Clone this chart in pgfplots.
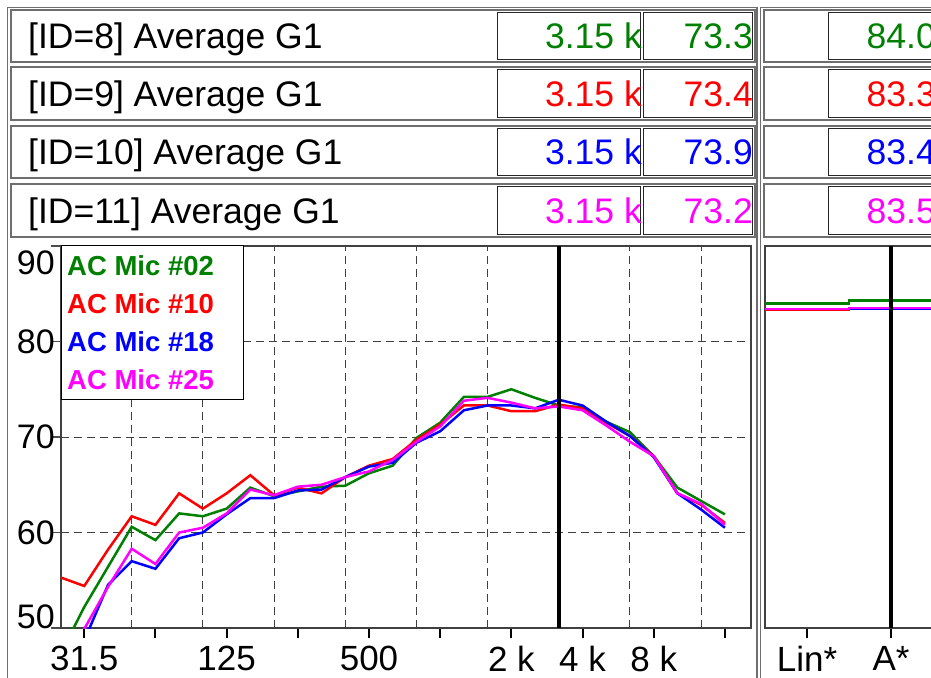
\documentclass[border=0pt]{standalone}
\usepackage{pgfplots}
\usepackage{pgfplotstable}
\pgfplotsset{compat=1.18}
\usepackage{fontspec}
\setmainfont{Liberation Sans}
\definecolor{colG}{RGB}{0,128,0}
\definecolor{colR}{RGB}{255,0,0}
\definecolor{colB}{RGB}{0,0,255}
\definecolor{colM}{RGB}{255,0,255}
\definecolor{frm}{RGB}{110,110,110}

\pgfplotstableread{
i g r b m
-1 47.3 55.3 45.5 46.0
0 52.2 54.4 48.7 49.9
1 56.4 58.2 54.5 54.3
2 60.6 61.7 57.0 58.3
3 59.2 60.8 56.2 56.7
4 62.0 64.1 59.4 60.0
5 61.7 62.5 60.0 60.5
6 62.5 64.1 61.9 62.0
7 64.7 66.0 63.6 64.5
8 63.8 63.9 63.6 63.9
9 64.3 64.7 64.4 64.8
10 64.8 64.1 64.5 65.0
11 64.9 65.8 65.8 65.8
12 66.2 67.0 66.9 66.4
13 67.0 67.7 67.3 67.6
14 69.9 69.7 69.4 69.5
15 71.5 71.3 70.6 71.1
16 74.2 73.3 72.8 73.8
17 74.2 73.3 73.3 74.1
18 75.0 72.7 73.3 73.6
19 74.1 72.7 73.0 73.0
20 73.3 73.4 73.9 73.2
21 73.1 73.0 73.3 72.8
22 71.6 71.5 71.6 71.2
23 70.5 70.1 70.1 69.5
24 68.0 68.0 67.9 68.0
25 64.7 64.1 64.1 64.1
26 63.3 62.9 62.4 63.0
27 61.9 61.0 60.5 60.8
}\spectrum

\begin{document}
\begin{tikzpicture}
% section frames
\draw[frm, line width=1.5pt] (7.5pt,-7.5pt) rectangle (757pt,-700pt);
\draw[frm, line width=1.5pt] (760.5pt,-7.5pt) rectangle (1000pt,-700pt);
\foreach \t/\b/\id/\v/\w/\c in {10/62/8/73.3/84.0/colG, 67/120/9/73.4/83.3/colR, 126/178/10/73.9/83.4/colB, 184/237/11/73.2/83.5/colM} {
  \draw[frm, line width=2pt] (11pt,{-\t*1pt}) rectangle (755pt,{-\b*1pt});
  \draw[black!85, line width=0.8pt] (497pt,{-(\t+2.5)*1pt}) rectangle (640.5pt,{-(\b-2.5)*1pt});
  \draw[black!85, line width=0.8pt] (643pt,{-(\t+2.5)*1pt}) rectangle (752pt,{-(\b-2.5)*1pt});
  \draw[frm, line width=2pt] (763.5pt,{-\t*1pt}) rectangle (1000pt,{-\b*1pt});
  \draw[black!85, line width=0.8pt] (828pt,{-(\t+2.5)*1pt}) rectangle (990pt,{-(\b-2.5)*1pt});
  \node[anchor=base west, inner sep=0pt, font=\fontsize{35.5pt}{40pt}\selectfont] at (28pt,{-((\t+\b)/2+12.5)*1pt}) {[ID=\id] Average G1};
  \node[anchor=base east, inner sep=0pt, text=\c, font=\fontsize{35.5pt}{40pt}\selectfont] at (642pt,{-((\t+\b)/2+12.5)*1pt}) {3.15 k};
  \node[anchor=base east, inner sep=0pt, text=\c, font=\fontsize{35.5pt}{40pt}\selectfont] at (753pt,{-((\t+\b)/2+12.5)*1pt}) {\v};
  \node[anchor=base west, inner sep=0pt, text=\c, font=\fontsize{35.5pt}{40pt}\selectfont] at (866.5pt,{-((\t+\b)/2+12.5)*1pt}) {\w};
}

\begin{axis}[
  at={(61pt,-628pt)}, anchor=south west,
  scale only axis, width=690pt, height=382pt,
  xmin=-0.98, xmax=28.1, ymin=50, ymax=90,
  axis line style={draw=black!75, line width=1.5pt},
  tick align=outside, tick pos=left,
  major tick length=10pt,
  xtick={0,3,...,27},
  xticklabels={31.5,,125,,500,,2 k,4 k,8 k,},
  xtick style={black, line width=2pt},
  ytick={50,60,70,80,90},
  yticklabels={{\raisebox{11pt}[\height][\depth]{50}},60,70,80,{\raisebox{-17pt}[\height][\depth]{90}}},
  ytick style={black!70, line width=1.5pt},
  ymajorgrids,
  extra x ticks={2,5,8,11,14,17,20,23,26},
  extra x tick labels={},
  extra x tick style={grid=major, tick style={draw=none}},
  major grid style={black!75, line width=1pt, dash pattern=on 8pt off 5pt},
  xticklabel style={font=\fontsize{35pt}{40pt}\selectfont, inner sep=0pt, anchor=north, yshift=-8pt},
  yticklabel style={font=\fontsize{34pt}{40pt}\selectfont, inner sep=0pt, anchor=east, xshift=4pt},
]
\addplot[colG, line width=2.5pt] table[x=i,y=g]{\spectrum};
\addplot[colR, line width=2.5pt] table[x=i,y=r]{\spectrum};
\addplot[colB, line width=2.5pt] table[x=i,y=b]{\spectrum};
\addplot[colM, line width=2.5pt] table[x=i,y=m]{\spectrum};
\addplot[black, line width=3.5pt] coordinates {(20,50) (20,90)};
\end{axis}

\begin{axis}[
  at={(765pt,-628pt)}, anchor=south west,
  scale only axis, width=176.4pt, height=382pt,
  xmin=-0.5, xmax=1.6, ymin=50, ymax=90,
  axis line style={draw=black!75, line width=1.5pt},
  tick align=outside, tick pos=left,
  major tick length=10pt,
  xtick={0,1}, xticklabels={Lin*,A*},
  xtick style={black, line width=2pt},
  ytick=\empty,
  xticklabel style={font=\fontsize{35pt}{40pt}\selectfont, inner sep=0pt, anchor=north, yshift=-8pt},
]
\addplot[colG, line width=2.5pt, const plot] coordinates {(-0.5,84.0) (0.5,84.3) (1.6,84.3)};
\addplot[colR, line width=2.5pt, const plot] coordinates {(-0.5,83.3) (0.5,83.4) (1.6,83.4)};
\addplot[colB, line width=2.5pt, const plot] coordinates {(-0.5,83.4) (0.5,83.4) (1.6,83.4)};
\addplot[colM, line width=2.5pt, const plot] coordinates {(-0.5,83.4) (0.5,83.5) (1.6,83.5)};
\addplot[black, line width=3.5pt] coordinates {(1,50) (1,90)};
\end{axis}

% legend
\node[draw=black, fill=white, line width=1pt, anchor=north west, minimum width=182pt, minimum height=154pt, inner sep=0pt] at (61pt,-245pt) {};
\foreach \y/\c/\n in {266/colG/02, 304/colR/10, 342/colB/18, 380/colM/25} {
  \node[anchor=west, inner sep=0pt, text=\c, font=\fontsize{27.5pt}{32pt}\selectfont\bfseries] at (67pt,{-\y*1pt}) {AC Mic \#\n};
}

\pgfresetboundingbox
\useasboundingbox (0,0) rectangle (931pt,-677pt);
\end{tikzpicture}
\end{document}
